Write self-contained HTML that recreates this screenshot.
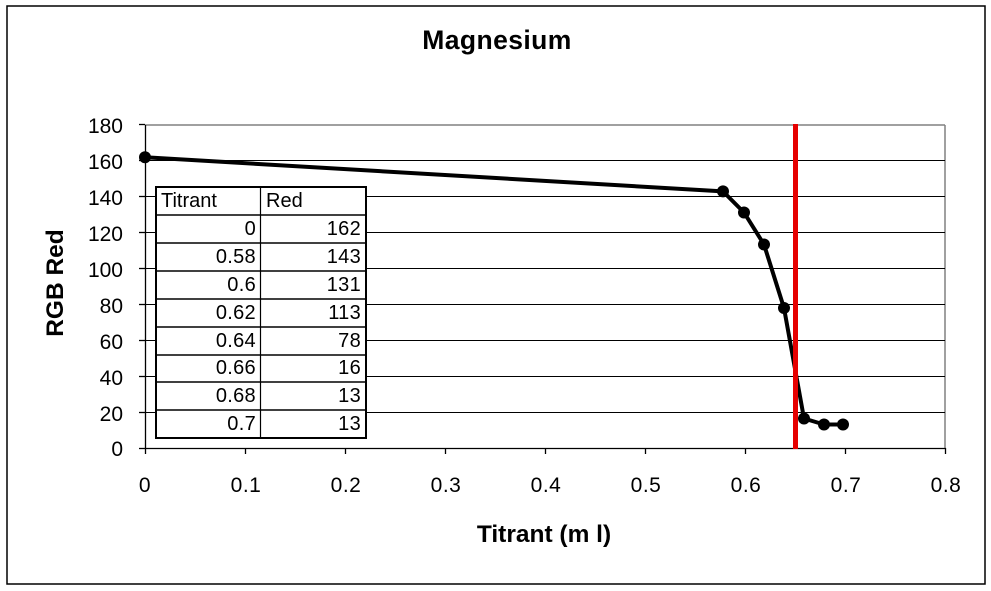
<!DOCTYPE html>
<html>
<head>
<meta charset="utf-8">
<style>
  html, body { margin: 0; padding: 0; background: #fff; }
  svg { display: block; }
  text { font-family: "Liberation Sans", Arial, sans-serif; fill: #000; }
</style>
</head>
<body>
<svg width="991" height="591" viewBox="0 0 991 591" xmlns="http://www.w3.org/2000/svg">
  <rect x="0" y="0" width="991" height="591" fill="#fff"/>
  <!-- chart border -->
  <rect x="7" y="6" width="978" height="578" fill="#fff" stroke="#000" stroke-width="1.5"/>

  <!-- title -->
  <text x="497" y="49" font-size="26.5" font-weight="bold" text-anchor="middle" letter-spacing="0.4">Magnesium</text>

  <!-- plot area border (top/right gray) -->
  <line x1="145" y1="125" x2="945" y2="125" stroke="#808080" stroke-width="1.5"/>
  <line x1="945" y1="125" x2="945" y2="448" stroke="#808080" stroke-width="1.5"/>

  <!-- gridlines -->
  <g stroke="#000" stroke-width="1">
    <line x1="145" y1="412.5" x2="945" y2="412.5"/>
    <line x1="145" y1="376.5" x2="945" y2="376.5"/>
    <line x1="145" y1="340.5" x2="945" y2="340.5"/>
    <line x1="145" y1="304.5" x2="945" y2="304.5"/>
    <line x1="145" y1="268.5" x2="945" y2="268.5"/>
    <line x1="145" y1="232.5" x2="945" y2="232.5"/>
    <line x1="145" y1="196.5" x2="945" y2="196.5"/>
    <line x1="145" y1="160.5" x2="945" y2="160.5"/>
  </g>

  <!-- axes -->
  <g stroke="#000" stroke-width="1.3">
    <line x1="145.5" y1="125" x2="145.5" y2="449"/>
    <line x1="145" y1="448.5" x2="946" y2="448.5"/>
    <!-- y ticks -->
    <line x1="139" y1="124.5" x2="145" y2="124.5"/>
    <line x1="139" y1="160.5" x2="145" y2="160.5"/>
    <line x1="139" y1="196.5" x2="145" y2="196.5"/>
    <line x1="139" y1="232.5" x2="145" y2="232.5"/>
    <line x1="139" y1="268.5" x2="145" y2="268.5"/>
    <line x1="139" y1="304.5" x2="145" y2="304.5"/>
    <line x1="139" y1="340.5" x2="145" y2="340.5"/>
    <line x1="139" y1="376.5" x2="145" y2="376.5"/>
    <line x1="139" y1="412.5" x2="145" y2="412.5"/>
    <line x1="139" y1="448.5" x2="145" y2="448.5"/>
    <!-- x ticks -->
    <line x1="145.5" y1="448" x2="145.5" y2="454"/>
    <line x1="245.5" y1="448" x2="245.5" y2="454"/>
    <line x1="345.5" y1="448" x2="345.5" y2="454"/>
    <line x1="445.5" y1="448" x2="445.5" y2="454"/>
    <line x1="545.5" y1="448" x2="545.5" y2="454"/>
    <line x1="645.5" y1="448" x2="645.5" y2="454"/>
    <line x1="745.5" y1="448" x2="745.5" y2="454"/>
    <line x1="845.5" y1="448" x2="845.5" y2="454"/>
    <line x1="945.5" y1="448" x2="945.5" y2="454"/>
  </g>

  <!-- y tick labels -->
  <g font-size="21" text-anchor="end">
    <text x="123" y="133">180</text>
    <text x="123" y="169">160</text>
    <text x="123" y="205">140</text>
    <text x="123" y="241">120</text>
    <text x="123" y="277">100</text>
    <text x="123" y="313">80</text>
    <text x="123" y="349">60</text>
    <text x="123" y="385">40</text>
    <text x="123" y="421">20</text>
    <text x="123" y="456">0</text>
  </g>

  <!-- x tick labels -->
  <g font-size="21" text-anchor="middle" letter-spacing="0.5">
    <text x="145" y="492">0</text>
    <text x="246" y="492">0.1</text>
    <text x="346" y="492">0.2</text>
    <text x="446" y="492">0.3</text>
    <text x="546" y="492">0.4</text>
    <text x="646" y="492">0.5</text>
    <text x="746" y="492">0.6</text>
    <text x="846" y="492">0.7</text>
    <text x="946" y="492">0.8</text>
  </g>

  <!-- axis titles -->
  <text x="544" y="542" font-size="24.5" font-weight="bold" text-anchor="middle">Titrant (m l)</text>
  <text transform="translate(63,283) rotate(-90)" font-size="24.5" font-weight="bold" text-anchor="middle">RGB Red</text>

  <!-- data table -->
  <rect x="156" y="187" width="210" height="251" fill="#fff" stroke="#000" stroke-width="2"/>
  <g stroke="#000" stroke-width="1.6">
    <line x1="156" y1="215" x2="366" y2="215"/>
    <line x1="156" y1="243" x2="366" y2="243"/>
    <line x1="156" y1="271" x2="366" y2="271"/>
    <line x1="156" y1="299" x2="366" y2="299"/>
    <line x1="156" y1="327" x2="366" y2="327"/>
    <line x1="156" y1="355" x2="366" y2="355"/>
    <line x1="156" y1="382" x2="366" y2="382"/>
    <line x1="156" y1="410" x2="366" y2="410"/>
  </g>
  <line x1="260.5" y1="187" x2="260.5" y2="438" stroke="#000" stroke-width="1.2"/>
  <g font-size="20">
    <text x="161" y="207">Titrant</text>
    <text x="266" y="207">Red</text>
  </g>
  <g font-size="20" text-anchor="end" letter-spacing="0.3">
    <text x="256" y="235">0</text><text x="361" y="235">162</text>
    <text x="256" y="263">0.58</text><text x="361" y="263">143</text>
    <text x="256" y="291">0.6</text><text x="361" y="291">131</text>
    <text x="256" y="319">0.62</text><text x="361" y="319">113</text>
    <text x="256" y="347">0.64</text><text x="361" y="347">78</text>
    <text x="256" y="374">0.66</text><text x="361" y="374">16</text>
    <text x="256" y="402">0.68</text><text x="361" y="402">13</text>
    <text x="256" y="430">0.7</text><text x="361" y="430">13</text>
  </g>

  <!-- data series -->
  <polyline fill="none" stroke="#000" stroke-width="4" stroke-linejoin="round"
    points="145,157.3 723,191.4 744,212.5 764,244.5 784,308 804,418.5 824,424.5 843,424.5"/>
  <g fill="#000">
    <circle cx="145" cy="157.3" r="6"/>
    <circle cx="723" cy="191.4" r="6"/>
    <circle cx="744" cy="212.5" r="6"/>
    <circle cx="764" cy="244.5" r="6"/>
    <circle cx="784" cy="308" r="6"/>
    <circle cx="804" cy="418.5" r="6"/>
    <circle cx="824" cy="424.5" r="6"/>
    <circle cx="843" cy="424.5" r="6"/>
  </g>

  <!-- red vertical marker line -->
  <line x1="795.5" y1="124" x2="795.5" y2="449" stroke="#e60000" stroke-width="5"/>
</svg>
</body>
</html>
